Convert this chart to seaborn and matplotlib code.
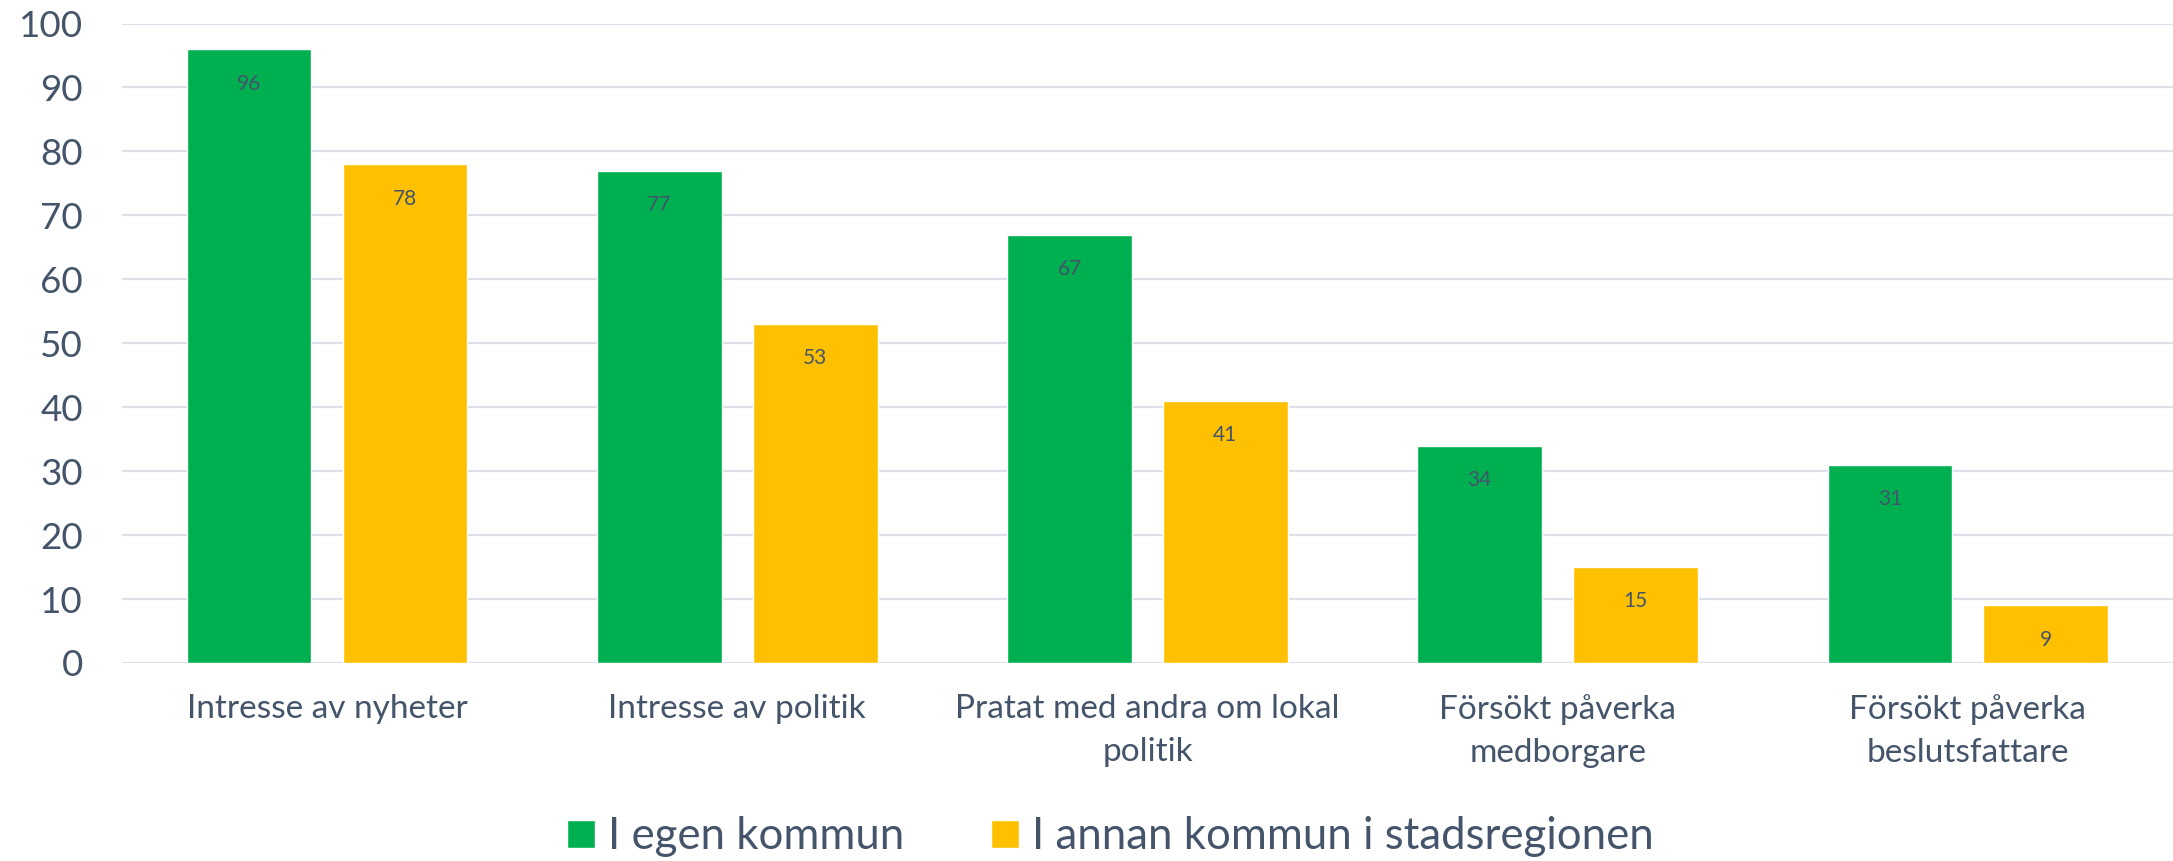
import matplotlib
matplotlib.use("Agg")
from matplotlib import pyplot as plt
import seaborn as sns
import pandas as pd

categories = ["Intresse av nyheter", "Intresse av politik", "Pratat med andra om lokal politik",
              "Försökt påverka medborgare", "Försökt påverka beslutsfattare"]
tick_labels = ["Intresse av nyheter", "Intresse av politik", "Pratat med andra om lokal\npolitik",
               "Försökt påverka\nmedborgare", "Försökt påverka\nbeslutsfattare"]
series = ["I egen kommun", "I annan kommun i stadsregionen"]
egen = [96, 77, 67, 34, 31]
annan = [78, 53, 41, 15, 9]

df = pd.DataFrame({
    "kategori": categories * 2,
    "grupp": [series[0]] * len(egen) + [series[1]] * len(annan),
    "andel": egen + annan,
})

text_color = "#44546A"
sns.set_style("white")
plt.rcParams["font.family"] = ["Lato", "DejaVu Sans"]

fig = plt.figure(figsize=(21.73, 8.61), dpi=100)
ax = fig.add_axes([0.0561, 0.230, 0.9439, 0.7427])

sns.barplot(data=df, x="kategori", y="andel", hue="grupp", order=categories, hue_order=series,
            palette=["#00B050", "#FFC000"], width=0.76, gap=0.2, saturation=1, ax=ax, legend=True)

for c in ax.containers:
    ax.bar_label(c, fmt="%d", padding=-32, fontsize=15, color=text_color)

ax.set_ylim(0, 100)
ax.set_xlim(-0.5, len(categories) - 0.5)
ax.set_yticks(range(0, 101, 10))
ax.yaxis.grid(True, color="#DDE2EA", linewidth=1.6)
ax.set_axisbelow(True)
sns.despine(ax=ax, left=True, bottom=True, top=True, right=True)
ax.tick_params(axis="y", length=0, pad=28, labelsize=26.5, labelcolor=text_color)
ax.tick_params(axis="x", length=0, pad=22, labelsize=24, labelcolor=text_color)
ax.set_xticks(range(len(categories)))
ax.set_xticklabels(tick_labels, linespacing=1.55)
ax.set_xlabel("")
ax.set_ylabel("")

handles, labels = ax.get_legend_handles_labels()
ax.get_legend().remove()
fig.legend(handles, labels, loc="center", bbox_to_anchor=(0.511, 0.028), ncol=2, frameon=False,
           fontsize=31.5, labelcolor=text_color, handlelength=0.62, handleheight=0.62,
           handletextpad=0.3, columnspacing=2.0)

fig.savefig("out.png", dpi=100)
